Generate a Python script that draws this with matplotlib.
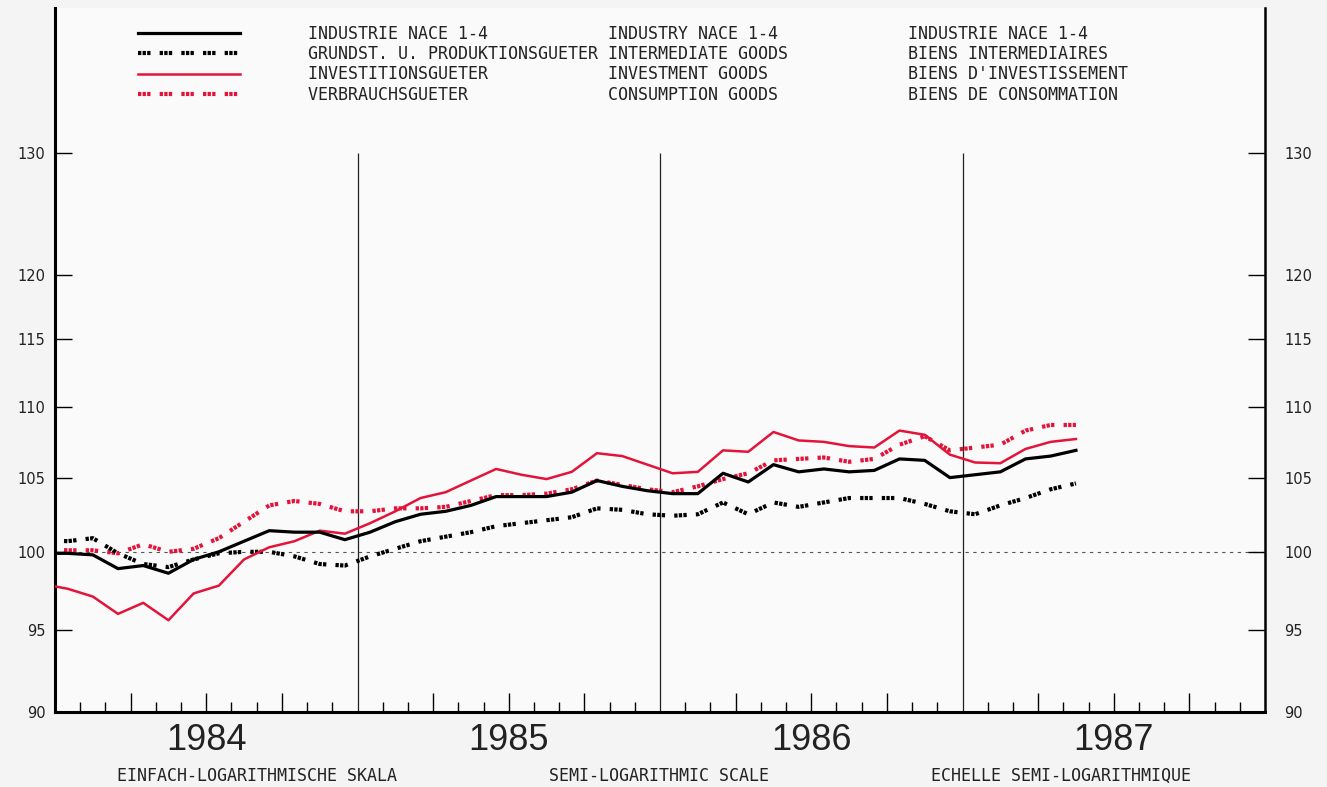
import numpy as np
import pandas as pd
import matplotlib
matplotlib.use('Agg')
import matplotlib.pyplot as plt
from matplotlib.ticker import FixedLocator, NullLocator
from matplotlib.transforms import blended_transform_factory

# monthly index values, Dec 1983 .. May 1987 (1980 = 100 basis, semi-log chart)
months = pd.period_range('1983-12', '1987-05', freq='M')

industrie = [99.9,
             99.9, 99.8, 98.9, 99.1, 98.6, 99.5, 100.0, 100.7, 101.4, 101.3, 101.3, 100.8,
             101.3, 102.0, 102.5, 102.7, 103.1, 103.7, 103.7, 103.7, 104.0, 104.8, 104.4, 104.1,
             103.9, 103.9, 105.3, 104.7, 105.9, 105.4, 105.6, 105.4, 105.5, 106.3, 106.2, 105.0,
             105.2, 105.4, 106.3, 106.5, 106.9]
grundstoffe = [100.8,
               100.7, 100.9, 99.9, 99.2, 99.0, 99.5, 99.9, 100.0, 100.0, 99.7, 99.2, 99.1,
               99.7, 100.2, 100.7, 101.0, 101.3, 101.7, 101.9, 102.1, 102.3, 102.9, 102.8, 102.5,
               102.4, 102.5, 103.3, 102.5, 103.3, 103.0, 103.3, 103.6, 103.6, 103.6, 103.2, 102.7,
               102.5, 103.1, 103.6, 104.2, 104.6]
investition = [97.9,
               97.6, 97.1, 96.0, 96.7, 95.6, 97.3, 97.8, 99.5, 100.3, 100.7, 101.4, 101.2,
               101.9, 102.7, 103.6, 104.0, 104.8, 105.6, 105.2, 104.9, 105.4, 106.7, 106.5, 105.9,
               105.3, 105.4, 106.9, 106.8, 108.2, 107.6, 107.5, 107.2, 107.1, 108.3, 108.0, 106.6,
               106.05, 106.0, 107.0, 107.5, 107.7]
verbrauch = [100.2,
             100.1, 100.1, 99.9, 100.5, 100.0, 100.2, 100.9, 102.0, 103.1, 103.4, 103.2, 102.7,
             102.7, 102.9, 102.9, 103.0, 103.4, 103.8, 103.8, 103.9, 104.2, 104.8, 104.5, 104.2,
             104.0, 104.4, 104.9, 105.3, 106.2, 106.3, 106.4, 106.1, 106.3, 107.3, 107.9, 106.9,
             107.1, 107.3, 108.3, 108.7, 108.7]

years = [1984, 1985, 1986, 1987]
yticks = [90, 95, 100, 105, 110, 115, 120, 130]

labels_de = ['INDUSTRIE NACE 1-4', 'GRUNDST. U. PRODUKTIONSGUETER',
             'INVESTITIONSGUETER', 'VERBRAUCHSGUETER']
labels_en = ['INDUSTRY NACE 1-4', 'INTERMEDIATE GOODS',
             'INVESTMENT GOODS', 'CONSUMPTION GOODS']
labels_fr = ['INDUSTRIE NACE 1-4', 'BIENS INTERMEDIAIRES',
             "BIENS D'INVESTISSEMENT", 'BIENS DE CONSOMMATION']
scale_notes = ['EINFACH-LOGARITHMISCHE SKALA', 'SEMI-LOGARITHMIC SCALE',
               'ECHELLE SEMI-LOGARITHMIQUE']

RED = '#e3143a'
mono = 'DejaVu Sans Mono'
dots = (0, (0.8, 0.3, 0.8, 0.3, 0.8, 2.2))

# x = months since Jan 1984, points at mid-month
x = (months.year - years[0]) * 12 + months.month - 0.5

fig = plt.figure(figsize=(13.27, 7.87), dpi=100, facecolor='#f4f4f4')
ax = fig.add_axes([55/1327, 75/787, 1210/1327, 704/787], facecolor='#fafafa')

ax.axhline(100, color='#555555', lw=0.8, ls=(0, (3, 4)), zorder=1)
ax.vlines([(y - years[0]) * 12 for y in years[1:]], 90, 130, color='#222222', lw=0.9, zorder=1)

l2, = ax.plot(x, verbrauch, color=RED, lw=3, ls=dots, dash_capstyle='butt', zorder=2)
l1, = ax.plot(x, grundstoffe, color='black', lw=3, ls=dots, dash_capstyle='butt', zorder=2)
l3, = ax.plot(x, investition, color=RED, lw=1.8, zorder=3)
l0, = ax.plot(x, industrie, color='black', lw=2.3, zorder=4)

ax.set_yscale('log')
ax.set_ylim(90, 143)
ax.set_xlim(0, 12 * len(years))

ax.set_yticks(yticks, labels=[str(v) for v in yticks])
ax.yaxis.set_minor_locator(NullLocator())
ax.tick_params(axis='y', which='major', direction='in', length=12, width=1,
               labelsize=10.5, pad=7, labelcolor='#222222')

ax.xaxis.set_major_locator(FixedLocator([m for m in range(3, 48, 3) if m % 12]))
ax.xaxis.set_minor_locator(FixedLocator([m for m in range(1, 48) if m % 3]))
ax.tick_params(axis='x', which='major', direction='in', length=14, width=1, labelbottom=False)
ax.tick_params(axis='x', which='minor', direction='in', length=7, width=1)

ax2 = ax.twinx()
ax2.set_yscale('log')
ax2.set_ylim(ax.get_ylim())
ax2.set_yticks(yticks, labels=[str(v) for v in yticks])
ax2.yaxis.set_minor_locator(NullLocator())
ax2.tick_params(axis='y', which='major', direction='in', length=12, width=1,
                labelsize=10.5, pad=14, labelcolor='#222222')

for a in (ax, ax2):
    a.spines['top'].set_visible(False)
ax.spines['left'].set_linewidth(2.2)
ax.spines['bottom'].set_linewidth(2.2)
ax2.spines['right'].set_linewidth(1.8)
ax2.spines['left'].set_visible(False)
ax2.spines['bottom'].set_visible(False)
ax.spines['right'].set_visible(False)

trans = blended_transform_factory(ax.transData, ax.transAxes)
for i, yr in enumerate(years):
    ax.text(12 * i + 6, -0.04, str(yr), transform=trans, ha='center', va='center',
            fontsize=26, family='Liberation Sans', color='#222222')

for xc, note in zip([257, 659, 1061], scale_notes):
    fig.text(xc / 1327, 11 / 787, note, ha='center', va='center', fontsize=12,
             family=mono, color='#222222')

labels = [f'{d:<30s}{e:<30s}{f}' for d, e, f in zip(labels_de, labels_en, labels_fr)]
fig.legend([l0, l1, l3, l2], labels, loc='upper left', bbox_to_anchor=(138/1327, 1 - 25/787),
           frameon=False, borderpad=0, borderaxespad=0, handlelength=6.1, handletextpad=4.1,
           labelspacing=0.13, prop={'family': mono, 'size': 12}, labelcolor='#222222')

fig.savefig('out.png', dpi=100, facecolor=fig.get_facecolor())
